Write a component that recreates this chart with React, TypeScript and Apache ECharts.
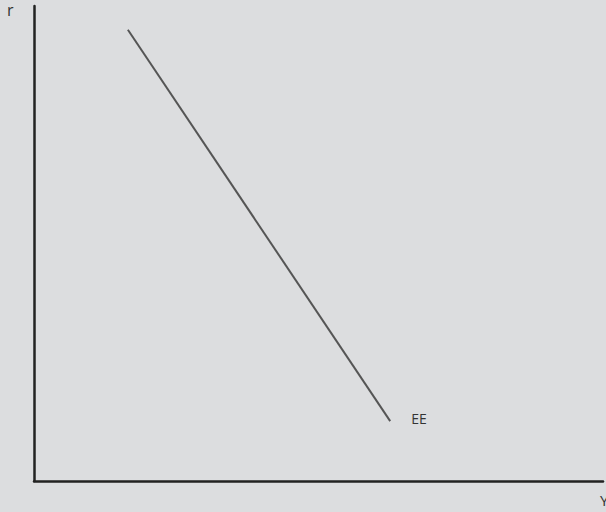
import React, { useEffect, useRef } from "react";
import * as echarts from "echarts";

const curveX = [16.5, 62.6];
const curveY = [95, 12.6];
const curveLabel = "EE";
const yAxisName = "r";
const xAxisName = "Y";

export default function App() {
  const ref = useRef<HTMLDivElement>(null);
  useEffect(() => {
    if (!ref.current) return;
    const chart = echarts.init(ref.current, null, { renderer: "svg" });
    const data = curveX.map((x, i) => [x, curveY[i]]);
    chart.setOption({
      animation: false,
      backgroundColor: "#dcdddf",
      textStyle: { fontFamily: "Open Sans" },
      grid: { left: 34, top: 6, right: 3, bottom: 31 },
      xAxis: {
        type: "value",
        min: 0,
        max: 100,
        axisLine: { show: true, lineStyle: { color: "#222", width: 2.5 } },
        axisTick: { show: false },
        axisLabel: { show: false },
        splitLine: { show: false },
      },
      yAxis: {
        type: "value",
        min: 0,
        max: 100,
        axisLine: { show: true, lineStyle: { color: "#222", width: 2.5 } },
        axisTick: { show: false },
        axisLabel: { show: false },
        splitLine: { show: false },
      },
      series: [
        {
          type: "line",
          data,
          showSymbol: false,
          symbol: "none",
          lineStyle: { color: "#555", width: 2 },
          silent: true,
          endLabel: {
            show: true,
            formatter: curveLabel,
            distance: 21,
            offset: [0, -3],
            color: "#333",
            fontSize: 14,
            fontFamily: "Open Sans",
          },
        },
      ],
      graphic: [
        {
          type: "text",
          left: 7,
          top: 2,
          style: { text: yAxisName, fontSize: 16, fill: "#333", fontFamily: "Open Sans" },
        },
        {
          type: "text",
          left: 600,
          top: 492,
          style: { text: xAxisName, fontSize: 15, fill: "#333", fontFamily: "Open Sans" },
        },
      ],
    });
    return () => chart.dispose();
  }, []);
  return <div ref={ref} style={{ position: "fixed", left: 0, top: 0, width: 606, height: 512 }} />;
}
